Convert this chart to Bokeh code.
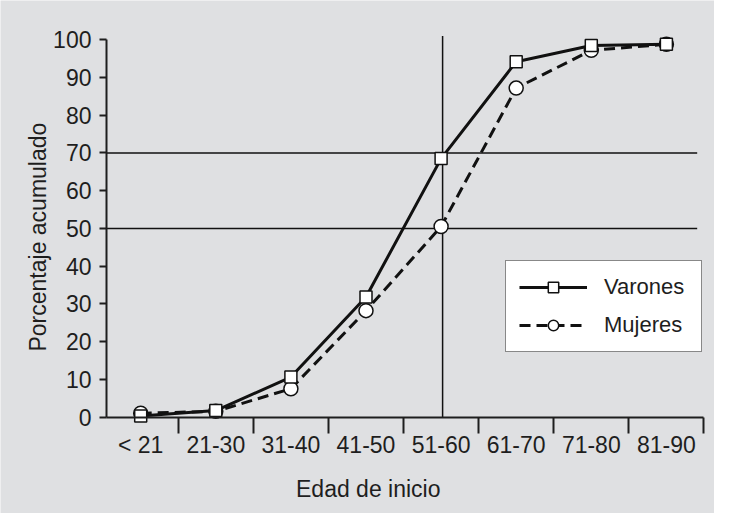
import math
from bokeh.plotting import figure
from bokeh.models import (LinearAxis, FixedTicker, Range1d, Legend, LegendItem,
                          Label, ColumnDataSource)
from bokeh.embed import file_html
from bokeh.resources import INLINE

# ---- data ----
categories = ["< 21", "21-30", "31-40", "41-50", "51-60", "61-70", "71-80", "81-90"]
varones = [0.3, 1.7, 10.6, 31.8, 68.5, 94.2, 98.5, 98.8]
mujeres = [1.0, 1.5, 7.5, 28.2, 50.5, 87.2, 97.2, 98.8]
y_ticks = [0, 10, 20, 30, 40, 50, 60, 70, 80, 90, 100]
ref_levels = [50, 70]          # horizontal reference lines (%)
ref_x = 4.02                    # vertical reference line (category index)
ref_top = 101
ref_line_end = 7.41

FONT = "Liberation Sans"
TXT = "#1e1e1e"
BG = "#dfe0e2"
FS = "23px"
FS_LEG = "22px"

W, H = 714, 513
X0 = -0.4554            # x position of the y axis
xs = list(range(len(categories)))
boundaries = [i + 0.5 for i in xs]

p = figure(frame_width=W, frame_height=H,
           x_range=Range1d(-1.8668, 7.6405), y_range=Range1d(-25.58, 110.42),
           output_backend="svg", toolbar_location=None,
           x_axis_type=None, y_axis_type=None,
           min_border=0)
p.background_fill_color = BG
p.border_fill_color = BG
p.outline_line_color = None
p.grid.visible = False

# y axis
yax = LinearAxis(ticker=FixedTicker(ticks=y_ticks), bounds=(0, 100),
                 fixed_location=X0)
yax.axis_line_width = 2
yax.axis_line_color = TXT
yax.major_tick_line_width = 2
yax.major_tick_line_color = TXT
yax.major_tick_out = 7
yax.major_tick_in = 0
yax.minor_tick_line_color = None
yax.major_label_standoff = 8
yax.major_label_text_font = FONT
yax.major_label_text_font_size = FS
yax.major_label_text_color = TXT
p.add_layout(yax, "left")

# x axis: line + boundary ticks
xtick = LinearAxis(ticker=FixedTicker(ticks=boundaries), bounds=(X0, 7.5),
                   fixed_location=0)
xtick.axis_line_width = 2
xtick.axis_line_color = TXT
xtick.major_tick_line_width = 2
xtick.major_tick_line_color = TXT
xtick.major_tick_out = 16
xtick.major_tick_in = 0
xtick.minor_tick_line_color = None
xtick.major_label_overrides = {b: "" for b in boundaries}
p.add_layout(xtick, "below")

# x axis: category labels at centres
xlab = LinearAxis(ticker=FixedTicker(ticks=xs), fixed_location=0)
xlab.axis_line_color = None
xlab.major_tick_line_color = None
xlab.minor_tick_line_color = None
xlab.major_tick_out = 0
xlab.major_tick_in = 0
xlab.major_label_standoff = 15
xlab.major_label_overrides = {i: c for i, c in zip(xs, categories)}
xlab.major_label_text_font = FONT
xlab.major_label_text_font_size = FS
xlab.major_label_text_color = TXT
p.add_layout(xlab, "below")

# axis titles
p.add_layout(Label(x=3.03, y=-19.2, text="Edad de inicio", text_align="center",
                   text_baseline="alphabetic", text_font=FONT,
                   text_font_size=FS, text_color=TXT))
p.add_layout(Label(x=-1.374, y=47.7, text="Porcentaje acumulado",
                   angle=math.pi / 2, text_align="center",
                   text_baseline="middle", text_font=FONT,
                   text_font_size=FS, text_color=TXT))

# reference lines
href = ColumnDataSource(dict(x0=[X0] * len(ref_levels),
                             x1=[ref_line_end] * len(ref_levels),
                             y=ref_levels))
p.segment(x0="x0", y0="y", x1="x1", y1="y", source=href,
          line_color="#111111", line_width=1.5)
vref = ColumnDataSource(dict(x=[ref_x], y0=[0], y1=[ref_top]))
p.segment(x0="x", y0="y0", x1="x", y1="y1", source=vref,
          line_color="#111111", line_width=1.5)

src = ColumnDataSource(dict(x=xs, v=varones, m=mujeres))
lm = p.line("x", "m", source=src, line_color="#111111", line_width=3,
            line_dash="11 6")
sm = p.scatter("x", "m", source=src, marker="circle", size=14,
               fill_color="white", line_color="#111111", line_width=1.5)
lv = p.line("x", "v", source=src, line_color="#111111", line_width=3)
sv = p.scatter("x", "v", source=src, marker="square", size=12,
               fill_color="white", line_color="#111111", line_width=1.5)

legend = Legend(items=[LegendItem(label="Varones", renderers=[lv, sv]),
                       LegendItem(label="Mujeres", renderers=[lm, sm])],
                location=(505, 161))
legend.border_line_color = "#111111"
legend.border_line_width = 1.5
legend.background_fill_color = "white"
legend.background_fill_alpha = 1
legend.padding = 13
legend.spacing = 12
legend.glyph_height = 26
legend.glyph_width = 68
legend.label_height = 26
legend.label_width = 84
legend.label_standoff = 17
legend.label_text_font = FONT
legend.label_text_font_size = FS_LEG
legend.label_text_color = TXT
legend.margin = 0
p.add_layout(legend, "center")

open("out.html", "w").write(file_html(p, INLINE))
